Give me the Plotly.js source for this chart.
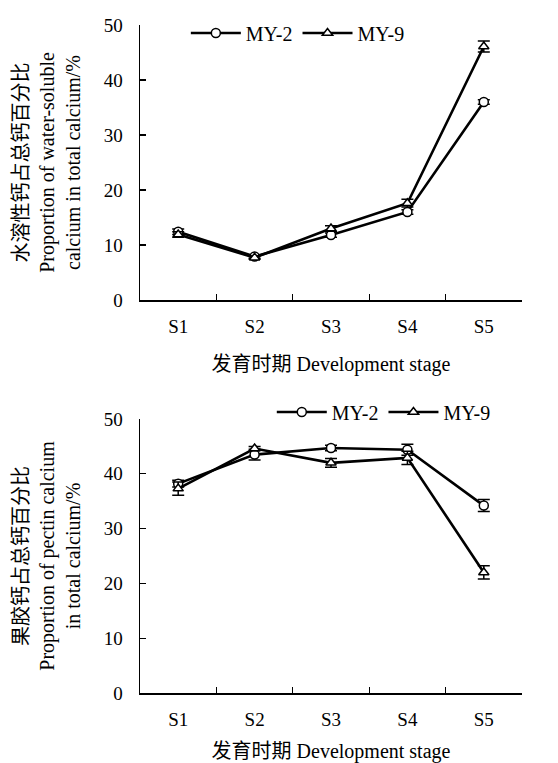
<!DOCTYPE html>
<html>
<head>
<meta charset="utf-8">
<script src="https://cdn.plot.ly/plotly-3.0.1.min.js"></script>
<style>html,body{margin:0;padding:0;background:#fff;}#chart{width:558px;height:763px;}</style>
</head>
<body>
<div id="chart"></div>
<script>
// Data
const stages = ["S1", "S2", "S3", "S4", "S5"];
const seriesNames = ["MY-2", "MY-9"];
// Top: water-soluble calcium proportion (%)
const waterMY2 = [12.4, 7.9, 11.8, 16.0, 36.0];
const waterMY2Err = [0.5, 0.3, 0.4, 0.4, 0.4];
const waterMY9 = [11.9, 7.7, 13.0, 17.6, 46.1];
const waterMY9Err = [0.5, 0.3, 0.5, 0.7, 1.0];
// Bottom: pectin calcium proportion (%)
const pectinMY2 = [38.2, 43.5, 44.7, 44.4, 34.2];
const pectinMY2Err = [0.6, 1.0, 0.5, 1.0, 1.1];
const pectinMY9 = [37.3, 44.6, 42.0, 42.9, 22.0];
const pectinMY9Err = [1.2, 0.4, 0.8, 1.2, 1.2];

const FONT = "Liberation Serif, Noto Sans CJK SC, serif";

function trace(y, err, name, symbol, xa, ya, leg, show) {
  return {
    x: stages, y: y, name: name, type: "scatter", mode: "lines+markers",
    xaxis: xa, yaxis: ya, legend: leg, showlegend: show,
    line: {color: "#000", width: 2.6},
    marker: {symbol: symbol, size: 9, color: "#fff", line: {color: "#000", width: 1.5}},
    error_y: {type: "data", array: err, visible: true, color: "#000", thickness: 1.5, width: 6}
  };
}

const data = [
  trace(waterMY2, waterMY2Err, seriesNames[0], "circle", "x", "y", "legend", true),
  trace(waterMY9, waterMY9Err, seriesNames[1], "triangle-up", "x", "y", "legend", true),
  trace(pectinMY2, pectinMY2Err, seriesNames[0], "circle", "x2", "y2", "legend2", true),
  trace(pectinMY9, pectinMY9Err, seriesNames[1], "triangle-up", "x2", "y2", "legend2", true)
];

const xCommon = {
  type: "category", range: [-0.5, 4.5], showline: true, linecolor: "#000", linewidth: 1.5,
  ticks: "inside", tickson: "boundaries", ticklen: 6, tickcolor: "#000", tickwidth: 1.2,
  ticklabelstandoff: 9,
  showgrid: false, zeroline: false, fixedrange: true, automargin: false,
  tickfont: {family: FONT, size: 19, color: "#000"},
  title: {text: "发育时期 Development stage", font: {family: FONT, size: 20, color: "#000"}}
};
const yCommon = {
  range: [0, 50], dtick: 10, showline: true, linecolor: "#000", linewidth: 1.5,
  ticks: "inside", ticklen: 6, tickcolor: "#000", tickwidth: 1.2,
  ticklabelstandoff: 12,
  showgrid: false, zeroline: false, fixedrange: true, automargin: true,
  tickfont: {family: FONT, size: 19, color: "#000"}
};

const layout = {
  width: 558, height: 763,
  margin: {l: 140, r: 36, t: 25, b: 70},
  paper_bgcolor: "#fff", plot_bgcolor: "#fff",
  font: {family: FONT, color: "#000"},
  xaxis: Object.assign({}, xCommon, {anchor: "y", domain: [0, 1]}),
  yaxis: Object.assign({}, yCommon, {anchor: "x", domain: [0.5883, 1],
    title: {text: "水溶性钙占总钙百分比<br>Proportion of water-soluble<br>calcium in total calcium/%", font: {family: FONT, size: 20, color: "#000"}, standoff: 17}}),
  xaxis2: Object.assign({}, xCommon, {anchor: "y2", domain: [0, 1]}),
  yaxis2: Object.assign({}, yCommon, {anchor: "x2", domain: [0, 0.4102],
    title: {text: "果胶钙占总钙百分比<br>Proportion of pectin calcium<br>in total calcium/%", font: {family: FONT, size: 20, color: "#000"}, standoff: 17}}),
  legend: {orientation: "h", x: 0.12, y: 0.988, xanchor: "left", yanchor: "middle",
    bgcolor: "rgba(0,0,0,0)", font: {family: FONT, size: 20, color: "#000"}, itemwidth: 50, tracegroupgap: 0},
  legend2: {orientation: "h", x: 0.345, y: 0.4207, xanchor: "left", yanchor: "middle",
    bgcolor: "rgba(0,0,0,0)", font: {family: FONT, size: 20, color: "#000"}, itemwidth: 50, tracegroupgap: 0},
  showlegend: true
};

Plotly.newPlot("chart", data, layout, {displayModeBar: false, staticPlot: true});
</script>
</body>
</html>
